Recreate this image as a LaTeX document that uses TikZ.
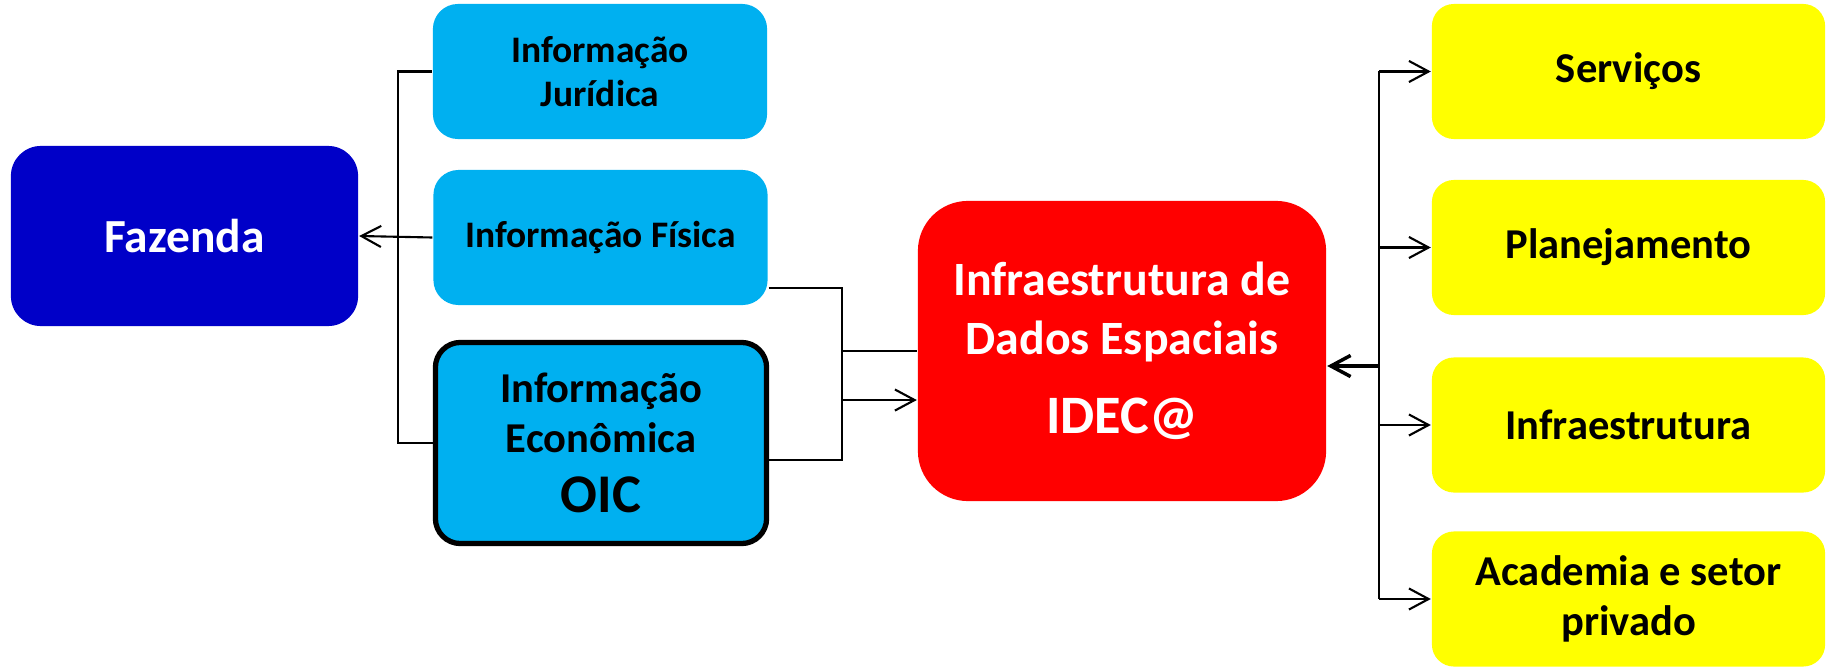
\documentclass[tikz,border=0pt]{standalone}
\usepackage{fontspec}
\setmainfont{Carlito}
\usetikzlibrary{arrows.meta,calc}
\tikzset{>={Straight Barb[length=5.6pt,width=6pt]}}
\definecolor{fazendablue}{RGB}{0,0,200}
\definecolor{infoblue}{RGB}{0,176,240}
\definecolor{idecred}{RGB}{255,0,0}
\definecolor{useryellow}{RGB}{255,255,0}

\begin{document}
\begin{tikzpicture}[x=0.01cm,y=-0.01cm,line width=0.6pt,
    box/.style={rounded corners=0.25cm,inner sep=2pt,align=center},
    infobox/.style={box,fill=infoblue,minimum width=3.34cm,minimum height=1.35cm,font=\bfseries\fontsize{10.65}{12.6}\selectfont},
    userbox/.style={box,fill=useryellow,minimum width=3.93cm,minimum height=1.35cm,rounded corners=0.22cm,font=\bfseries\fontsize{12.1}{14}\selectfont}]
  \pgfmathsetmacro{\BusLeft}{398};
  \pgfmathsetmacro{\BusMid}{842};
  \pgfmathsetmacro{\BusRight}{1379};
  % 
  \useasboundingbox (0,0) rectangle (1834,667);
  \node[box,fill=fazendablue,text=white,minimum width=3.47cm,minimum height=1.80cm,rounded corners=0.3cm,font=\bfseries\fontsize{13.5}{16}\selectfont] (fazenda) at (184.5,236) {Fazenda};
  \node[infobox] (juridica) at (600,71.5) {Informação\\Jurídica};
  \node[infobox] (fisica) at (600.5,237.5) {Informação Física};
  \node[infobox,draw=black,line width=1.5pt,minimum width=3.31cm,minimum height=2.01cm,font=\bfseries\fontsize{12.1}{14.2}\selectfont] (economica) at (601,443) {Informação\\Econômica\\[2.8pt]{\fontsize{15.5}{17}\selectfont OIC}};
  \node[box,fill=idecred,text=white,minimum width=4.08cm,minimum height=3.00cm,rounded corners=0.5cm,font=\bfseries\fontsize{13.6}{16.6}\selectfont] (idec) at (1122,351) {Infraestrutura de\\Dados Espaciais\\[6pt]{\fontsize{15.4}{18}\selectfont IDEC@}};
  \foreach \name/\ypos/\label in {servicos/71.5/Serviços,planejamento/247.5/Planejamento,infraestrutura/425/Infraestrutura,academia/599/{Academia e setor\\privado}}
    \node[userbox] (\name) at (1628.5,\ypos) {\label};
  % 
  \coordinate (BL) at (\BusLeft,0);
  \coordinate (BM) at (\BusMid,0);
  \coordinate (BR) at (\BusRight,0);
  \coordinate (fisout) at ([yshift=0.18cm]fisica.south east);
  \coordinate (ecoout) at ([yshift=-0.17cm]economica.east);
  \coordinate (idecin) at ([yshift=-0.49cm]idec.west);
  \coordinate (idecback) at ([yshift=-0.15cm]idec.east);
  % 
  \draw (juridica.west) -- (juridica.west -| BL) -- (economica.west -| BL) -- (economica.west);
  \draw[->] (fisica.west) -- (fazenda.east);
  \draw (fisout) -- (fisout -| BM) -- (ecoout -| BM) -- (ecoout);
  \draw (idec.west -| BM) -- (idec.west);
  \draw[->] (idecin -| BM) -- (idecin);
  % 
  \draw (servicos.west -| BR) -- (academia.west -| BR);
  \foreach \name in {servicos,planejamento,infraestrutura,academia}
    \draw[->] (\name.west -| BR) -- (\name.west);
  \draw[->,line width=1pt] (idecback -| BR) -- (idecback);
\end{tikzpicture}
\end{document}
